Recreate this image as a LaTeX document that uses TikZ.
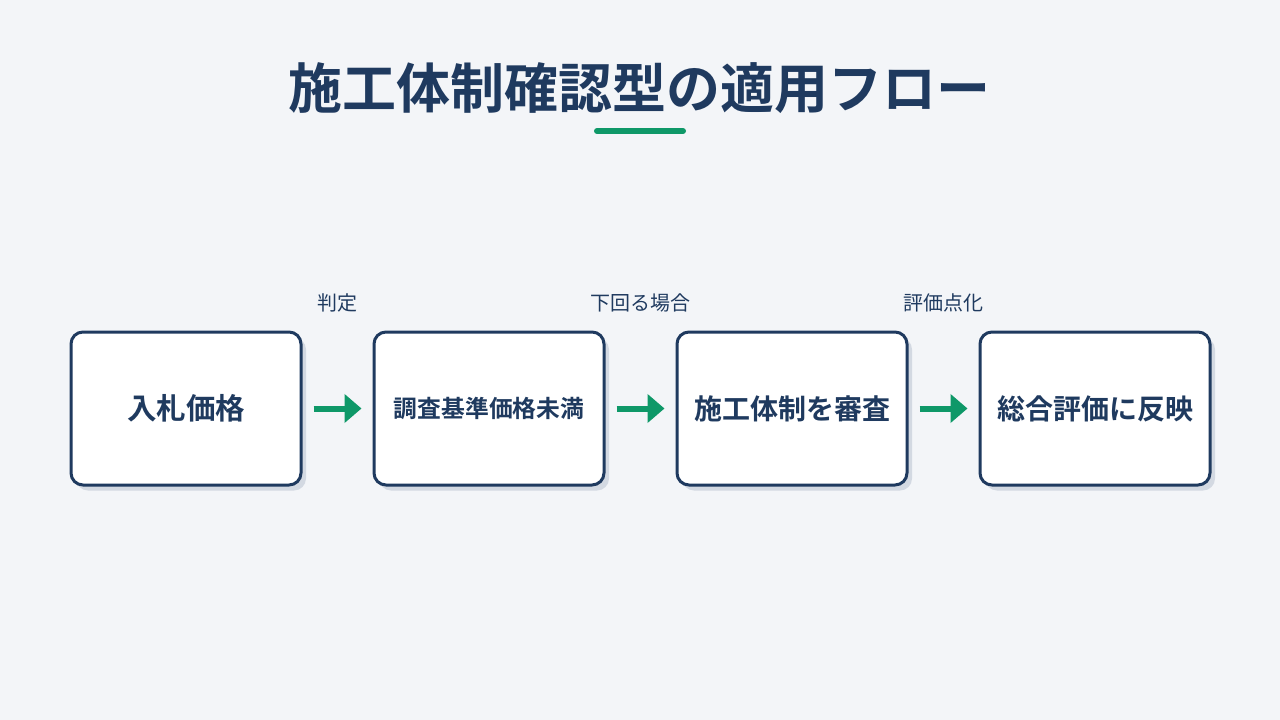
\documentclass[tikz,border=0pt]{standalone}
\usepackage{fontspec}
\setmainfont{Noto Sans CJK JP}
\newfontfamily\jpb{Noto Sans CJK JP Bold}
\usetikzlibrary{arrows.meta}
\definecolor{navy}{HTML}{1F3A5F}
\definecolor{bg}{HTML}{F3F5F8}
\definecolor{grn}{HTML}{0E9868}
\definecolor{shd}{HTML}{D3D9E2}
\tikzset{
  stepbox/.style={draw=navy, line width=3pt, fill=white, rounded corners=12pt,
    minimum width=230pt, minimum height=153pt, inner sep=0pt, text=navy,
    font=\jpb\fontsize{28}{32}\selectfont},
  shadowbox/.style={fill=shd, rounded corners=12pt, minimum width=230pt, minimum height=153pt, inner sep=0pt},
  flow/.style={draw=grn, line width=6pt, -{Triangle[length=17pt,width=28pt]}, shorten <=11pt, shorten >=11pt},
  lbl/.style={text=navy, font=\fontsize{20}{24}\selectfont}
}
\begin{document}
\begin{tikzpicture}[x=1pt,y=-1pt]
\fill[bg] (0,0) rectangle (1280,720);
\useasboundingbox (0,0) rectangle (1280,720);
\node[text=navy, font=\jpb\fontsize{54}{62}\selectfont] (title) at (639,88) {施工体制確認型の適用フロー};
\coordinate (ul1) at (597,131);
\coordinate (ul2) at (683,131);
\draw[grn, line width=6pt, line cap=round] (ul1) -- (ul2);
\foreach \x in {186,489,792,1095}{
  \node[shadowbox] at (\x+5,414) {};
}
\node[stepbox, font=\jpb\fontsize{29.5}{34}\selectfont] (b1) at (186,408.5) {入札価格};
\node[stepbox, font=\jpb\fontsize{23.8}{28}\selectfont] (b2) at (489,408.5) {調査基準価格未満};
\node[stepbox] (b3) at (792,408.5) {施工体制を審査};
\node[stepbox] (b4) at (1095,408.5) {総合評価に反映};
\draw[flow] (b1.east) -- (b2.west);
\draw[flow] (b2.east) -- (b3.west);
\draw[flow] (b3.east) -- (b4.west);
\node[lbl] (l1) at (337,303) {判定};
\node[lbl] (l2) at (640,303) {下回る場合};
\node[lbl] (l3) at (943,303) {評価点化};
\end{tikzpicture}
\end{document}
